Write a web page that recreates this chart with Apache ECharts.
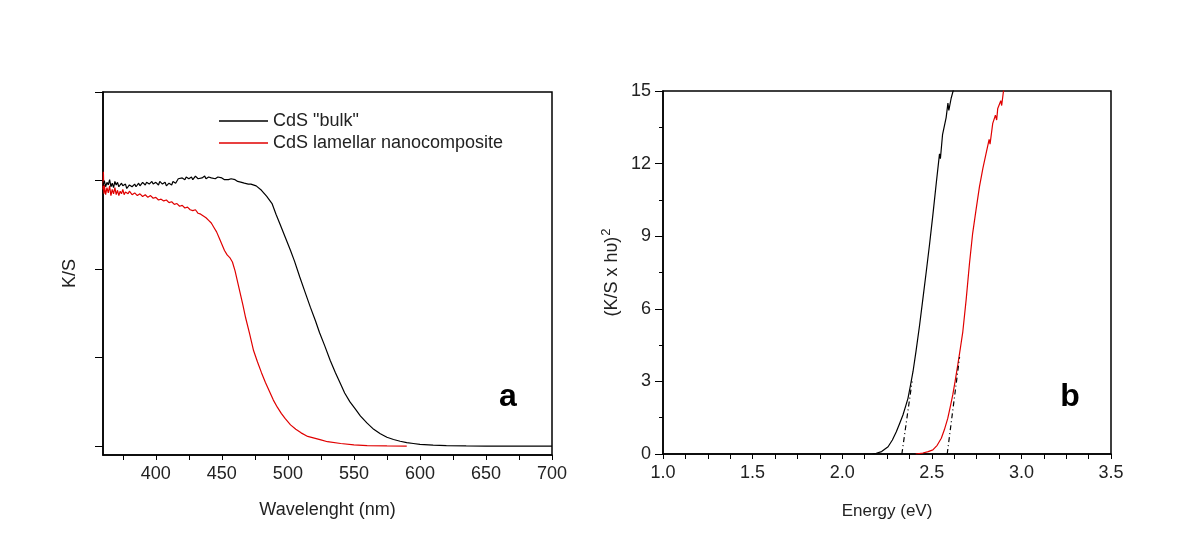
<!DOCTYPE html>
<html>
<head>
<meta charset="utf-8">
<script src="https://cdn.jsdelivr.net/npm/echarts@6/dist/echarts.min.js"></script>
<style>html,body{margin:0;padding:0;background:#fff;}#chart{width:1200px;height:560px;}</style>
</head>
<body>
<div id="chart"></div>
<script>
// ---- Panel a: K/S vs wavelength ----
var bulkWavelength = [360,361,362,363,364,365,366,367,368,369,370,371,372,374,375,377,378,380,382,384,385,387,388,390,392,393,395,397,398,400,402,403,405,407,408,410,412,413,415,417,418,420,422,423,425,427,428,430,432,433,435,437,438,440,442,443,445,447,448,450,452,453,455,457,458,460,462,463,465,467,468,470,472,476,480,484,488,491,494,498,502,505,509,513,517,521,524,528,532,536,540,543,547,551,555,560,565,570,575,580,585,590,595,600,610,620,635,650,700];
var bulkKS = [2.94,3.0,2.93,2.98,2.95,3.01,2.93,2.97,2.92,2.99,2.95,2.98,2.93,2.97,2.94,2.96,2.91,2.95,2.93,2.96,2.93,2.97,2.94,2.98,2.95,2.98,2.96,2.99,2.96,2.98,2.95,2.99,2.96,2.98,2.94,2.97,2.95,2.99,2.97,3.02,3.0,3.03,3.01,3.04,3.02,3.04,3.01,3.05,3.02,3.04,3.03,3.05,3.02,3.04,3.03,3.05,3.02,3.04,3.02,3.03,3.01,3.03,3.01,3.02,3.0,3.01,2.99,3.0,2.98,2.97,2.98,2.96,2.96,2.94,2.89,2.82,2.74,2.62,2.51,2.36,2.21,2.09,1.91,1.74,1.57,1.41,1.28,1.13,0.97,0.83,0.70,0.60,0.50,0.42,0.34,0.26,0.19,0.14,0.10,0.075,0.055,0.04,0.03,0.02,0.012,0.007,0.003,0,0];
var nanoWavelength = [360,360.3,360.7,361,362,363,364,365,366,367,368,369,370,371,372,373,374,375,376,377,379,380,382,384,386,388,390,392,394,396,398,400,402,404,406,408,410,412,414,416,418,420,422,424,426,428,430,432,434,436,438,440,442,444,446,448,450,452,454,456,458,460,462,464,466,468,471,474,477,480,483,486,489,492,495,498,502,506,510,515,520,525,530,540,550,560,575,590];
var nanoKS = [2.9,3.1,2.85,2.95,2.84,2.92,2.86,2.94,2.83,2.9,2.85,2.92,2.84,2.89,2.83,2.88,2.85,2.9,2.84,2.87,2.85,2.88,2.84,2.86,2.83,2.85,2.82,2.84,2.81,2.83,2.8,2.81,2.78,2.79,2.77,2.78,2.75,2.76,2.73,2.74,2.71,2.72,2.69,2.7,2.67,2.66,2.67,2.63,2.62,2.6,2.58,2.55,2.52,2.47,2.42,2.35,2.28,2.21,2.16,2.13,2.08,1.98,1.85,1.72,1.59,1.45,1.27,1.08,0.95,0.83,0.72,0.62,0.52,0.44,0.37,0.31,0.24,0.19,0.15,0.11,0.09,0.07,0.05,0.03,0.015,0.007,0.002,0];
var wavelengthTicks = [375,400,425,450,475,500,525,550,575,600,625,650,675,700];
var wavelengthLabels = [400,450,500,550,600,650,700];
var ksTicks = [0,1,2,3,4];

// ---- Panel b: Tauc plot ----
var bulkEnergy = [2.17,2.19,2.22,2.256,2.28,2.302,2.32,2.339,2.355,2.367,2.38,2.395,2.412,2.432,2.45,2.469,2.488,2.506,2.525,2.543,2.548,2.56,2.58,2.59,2.595,2.608,2.63];
var bulkTauc = [0,0.03,0.1,0.3,0.58,0.92,1.25,1.61,2.0,2.3,2.8,3.4,4.25,5.33,6.4,7.53,8.7,9.88,11.2,12.4,12.2,13.2,13.9,14.5,14.2,14.7,15.3];
var nanoEnergy = [2.41,2.45,2.48,2.506,2.53,2.553,2.57,2.589,2.603,2.617,2.63,2.645,2.66,2.673,2.692,2.71,2.728,2.747,2.766,2.785,2.803,2.82,2.825,2.84,2.855,2.862,2.868,2.885,2.89,2.90,2.91];
var nanoTauc = [0,0.04,0.1,0.17,0.36,0.65,1.0,1.47,1.95,2.44,3.0,3.68,4.4,5.05,6.4,7.85,9.12,10.1,11.05,11.8,12.42,13.0,12.8,13.66,14.0,13.8,14.28,14.6,14.4,15.0,15.3];
var bulkTangentE = [2.333,2.39];
var bulkTangentY = [0,3.0];
var nanoTangentE = [2.586,2.655];
var nanoTangentY = [0,4.0];

var seriesNames = ['CdS "bulk"', 'CdS lamellar nanocomposite'];

function pairs(xs, ys){ return xs.map(function(x,i){ return [x, ys[i]]; }); }

var FONT = '"Liberation Sans", Arial, sans-serif';
var TXT = '#222';

var chart = echarts.init(document.getElementById('chart'), null, {renderer:'canvas'});
chart.setOption({
  animation: false,
  backgroundColor: '#fff',
  textStyle: {fontFamily: FONT},
  grid: [
    {left:103, top:92, width:449, height:363, show:true, borderColor:'#000', borderWidth:1.5, backgroundColor:'transparent'},
    {left:663, top:91, width:448, height:363, show:true, borderColor:'#000', borderWidth:1.5, backgroundColor:'transparent'}
  ],
  legend: {
    left: 214, top: 107, orient: 'vertical', itemWidth: 49, itemHeight: 1.5, itemGap: 4,
    icon: 'rect',
    data: seriesNames,
    textStyle: {fontSize: 18, color: TXT, fontFamily: FONT},
    selectedMode: false
  },
  xAxis: [
    {gridIndex:0, type:'value', min:360, max:700,
     axisLine:{show:true, onZero:false, lineStyle:{color:'#000', width:1.5}},
     axisTick:{show:true, length:5, customValues: wavelengthTicks, lineStyle:{color:'#000'}},
     axisLabel:{show:true, customValues: wavelengthLabels, fontSize:18, color:TXT, margin:10, fontFamily:FONT},
     splitLine:{show:false},
     name:'Wavelenght (nm)', nameLocation:'middle', nameGap:46,
     nameTextStyle:{fontSize:18, color:TXT, fontFamily:FONT}},
    {gridIndex:1, type:'value', min:1, max:3.5, interval:0.5,
     axisLine:{show:true, onZero:false, lineStyle:{color:'#000', width:1.5}},
     axisTick:{show:true, length:5, lineStyle:{color:'#000'}},
     minorTick:{show:true, splitNumber:4, length:5, lineStyle:{color:'#000'}},
     axisLabel:{fontSize:18, color:TXT, margin:10, fontFamily:FONT, formatter:function(v){return v.toFixed(1);}},
     splitLine:{show:false},
     name:'Energy (eV)', nameLocation:'middle', nameGap:49,
     nameTextStyle:{fontSize:17, color:TXT, fontFamily:FONT}}
  ],
  yAxis: [
    {gridIndex:0, type:'value', min:-0.1, max:4,
     axisLine:{show:true, onZero:false, lineStyle:{color:'#000', width:1.5}},
     axisTick:{show:true, length:8, customValues: ksTicks, lineStyle:{color:'#000'}},
     axisLabel:{show:false},
     splitLine:{show:false},
     name:'K/S', nameLocation:'middle', nameGap:24,
     nameTextStyle:{fontSize:18, color:TXT, fontFamily:FONT}},
    {gridIndex:1, type:'value', min:0, max:15, interval:3,
     axisLine:{show:true, onZero:false, lineStyle:{color:'#000', width:1.5}},
     axisTick:{show:true, length:8, lineStyle:{color:'#000'}},
     minorTick:{show:true, splitNumber:2, length:4, lineStyle:{color:'#000'}},
     axisLabel:{fontSize:18, color:TXT, margin:12, fontFamily:FONT},
     splitLine:{show:false},
     name:'{m|(K/S x hυ)}{s|2}', nameLocation:'middle', nameGap:38,
     nameTextStyle:{fontSize:18, color:TXT, fontFamily:FONT,
       rich:{m:{fontSize:18, color:TXT, fontFamily:FONT}, s:{fontSize:13, color:TXT, fontFamily:FONT, padding:[0,0,12,1]}}}}
  ],
  series: [
    {name:seriesNames[0], type:'line', xAxisIndex:0, yAxisIndex:0, data:pairs(bulkWavelength,bulkKS),
     symbol:'none', lineStyle:{color:'#000', width:1.2}, itemStyle:{color:'#000'}, z:3},
    {name:seriesNames[1], type:'line', xAxisIndex:0, yAxisIndex:0, data:pairs(nanoWavelength,nanoKS),
     symbol:'none', lineStyle:{color:'#e00000', width:1.2}, itemStyle:{color:'#e00000'}, z:2},
    {name:'bulk Tauc', type:'line', xAxisIndex:1, yAxisIndex:1, data:pairs(bulkEnergy,bulkTauc),
     symbol:'none', clip:true, lineStyle:{color:'#000', width:1.2}},
    {name:'nano Tauc', type:'line', xAxisIndex:1, yAxisIndex:1, data:pairs(nanoEnergy,nanoTauc),
     symbol:'none', clip:true, lineStyle:{color:'#e00000', width:1.2}},
    {name:'bulk tangent', type:'line', xAxisIndex:1, yAxisIndex:1, data:pairs(bulkTangentE,bulkTangentY),
     symbol:'none', lineStyle:{color:'#000', width:1.2, type:[5,3,1,3]}},
    {name:'nano tangent', type:'line', xAxisIndex:1, yAxisIndex:1, data:pairs(nanoTangentE,nanoTangentY),
     symbol:'none', lineStyle:{color:'#000', width:1.2, type:[5,3,1,3]}}
  ],
  graphic: [
    {type:'text', x:508, y:397, style:{text:'a', font:'bold 32px ' + FONT, fill:'#000', textAlign:'center', textVerticalAlign:'middle'}},
    {type:'text', x:1070, y:397, style:{text:'b', font:'bold 32px ' + FONT, fill:'#000', textAlign:'center', textVerticalAlign:'middle'}}
  ]
});
</script>
</body>
</html>
